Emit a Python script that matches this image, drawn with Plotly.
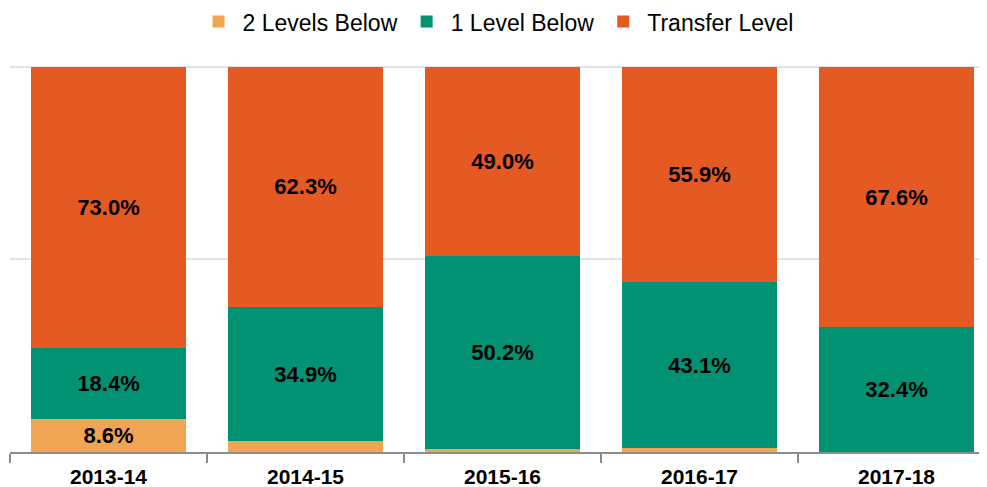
import plotly.graph_objects as go

years = ["2013-14", "2014-15", "2015-16", "2016-17", "2017-18"]
two_below = [8.6, 2.8, 0.8, 1.0, 0.0]
one_below = [18.4, 34.9, 50.2, 43.1, 32.4]
transfer = [73.0, 62.3, 49.0, 55.9, 67.6]

series = [
    ("2 Levels Below", two_below, "#F0A555"),
    ("1 Level Below", one_below, "#009272"),
    ("Transfer Level", transfer, "#E45A22"),
]

fig = go.Figure()
for name, vals, color in series:
    labels = [f"{v:.1f}%" if v >= 5 else "" for v in vals]
    fig.add_trace(go.Bar(
        x=years, y=vals, name=name, marker_color=color,
        marker_line_width=0,
        text=labels, textposition="inside", insidetextanchor="middle",
        textangle=0, constraintext="none",
        textfont=dict(family="Liberation Sans, Arial", size=22, color="black", weight="bold"),
        hoverinfo="skip",
    ))

fig.update_layout(
    barmode="stack",
    bargap=0.21,
    width=987, height=487,
    margin=dict(l=2, r=0, t=57, b=43),
    plot_bgcolor="white", paper_bgcolor="white",
    font=dict(family="Liberation Sans, Arial", color="black"),
    legend=dict(orientation="h", x=0.495, xanchor="center", xref="container",
                y=0.972, yanchor="middle", yref="container",
                font=dict(size=23, family="Liberation Sans, Arial"), traceorder="normal",
                itemwidth=38),
    showlegend=True,
)
fig.update_xaxes(
    range=[-0.5, 4.5], showline=True, linecolor="#8c8c8c", linewidth=1.5,
    ticks="outside", tickson="boundaries", ticklen=9, tickcolor="#8c8c8c", tickwidth=1.5,
    ticklabelstandoff=5,
    tickfont=dict(size=21, family="Liberation Sans, Arial", color="black", weight="bold"),
    showgrid=False,
)
fig.update_yaxes(
    range=[0, 100.5], tickvals=[50, 100], showgrid=True, gridcolor="#e3e3e3", gridwidth=1.5,
    showticklabels=False, zeroline=False,
)

fig.write_html("out.html")
